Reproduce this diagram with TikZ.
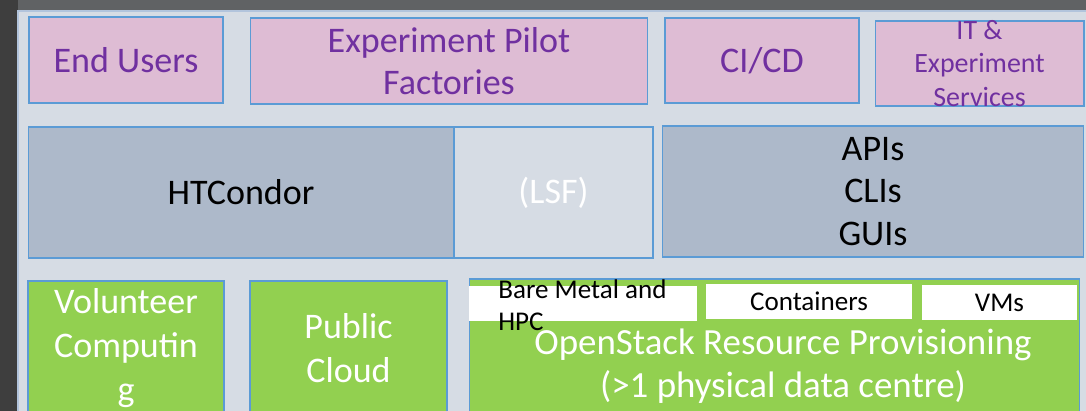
\documentclass[tikz,border=0pt]{standalone}
\usepackage{fontspec}
\setmainfont{Carlito}
\usepackage{tikz}
\usetikzlibrary{positioning}

\definecolor{darkbg}{RGB}{62, 62, 62}
\definecolor{stripbg}{RGB}{96, 98, 100}
\definecolor{panelbg}{RGB}{214, 220, 228}
\definecolor{paneledge}{RGB}{178, 196, 220}
\definecolor{edgeblue}{RGB}{91, 155, 213}
\definecolor{pinkfill}{RGB}{222, 188, 212}
\definecolor{purpletxt}{RGB}{112, 48, 160}
\definecolor{slatefill}{RGB}{173, 185, 202}
\definecolor{greenfill}{RGB}{146, 208, 80}

\begin{document}
\begin{tikzpicture}[x=0.02cm, y=-0.02cm,
  box/.style={draw=edgeblue, line width=0.6pt, inner sep=0pt, align=center},
  pinkbox/.style={box, fill=pinkfill, text=purpletxt, font=\fontsize{20.5}{24}\selectfont},
  slatebox/.style={box, fill=slatefill, font=\fontsize{20.5}{24}\selectfont},
  greenbox/.style={box, fill=greenfill, text=white, font=\fontsize{20.5}{25}\selectfont},
  whitebox/.style={fill=white, inner sep=0pt, minimum height=0.70cm, font=\fontsize{15.4}{18}\selectfont}]

  % Backdrop and panel
  \useasboundingbox (0, 0) rectangle (1086, 411);
  \clip (0, 0) rectangle (1086, 411);
  \fill[darkbg] (0, 0) rectangle (1086, 411);
  \fill[stripbg] (18, 0) rectangle (1086, 11);
  \filldraw[fill=panelbg, draw=paneledge, line width=0.8pt] (18, 11) rectangle (1090, 415);

  % Top row: consumers
  \node[pinkbox, minimum width=3.88cm, minimum height=1.72cm] (users) at (126, 60) {End Users};
  \node[pinkbox, minimum width=7.96cm, minimum height=1.72cm] (pilots) at (449, 61) {Experiment Pilot\\Factories};
  \node[pinkbox, minimum width=3.88cm, minimum height=1.70cm] (cicd) at (762, 60.5) {CI/CD};
  \node[pinkbox, minimum width=4.18cm, minimum height=1.70cm] (itsvc) at (979.5, 63.5) {};
  \node[text=purpletxt, align=center, inner sep=0pt, font=\fontsize{15.9}{19.3}\selectfont] (itsvctxt) at (itsvc.center) {IT \&\\Experiment\\Services};

  % Middle row: batch and interfaces
  \node[slatebox, minimum width=8.52cm, minimum height=2.62cm] (htcondor) at (241, 192.5) {HTCondor};
  \node[box, fill=panelbg, text=white, font=\fontsize{20.5}{24}\selectfont, minimum width=3.98cm, minimum height=2.62cm] (lsf) at (553.5, 192.5) {(LSF)};
  \node[slatebox, minimum width=8.44cm, minimum height=2.62cm] (apis) at (873, 191.5) {APIs\\CLIs\\GUIs};

  % Bottom row: resources
  \node[greenbox, minimum width=3.92cm, minimum height=2.70cm] (volunteer) at (126, 348.5) {};
  \node[text=white, align=center, inner sep=0pt, font=\fontsize{20.5}{25}\selectfont] (volunteertxt) at (126, 348) {Volunteer\\Computin\\g};
  \node[greenbox, minimum width=3.94cm, minimum height=2.70cm] (public) at (348.5, 348.5) {Public\\Cloud};
  \node[greenbox, minimum width=12.22cm, minimum height=2.74cm] (openstack) at (774.5, 347.5) {};
  \node[text=white, align=center, inner sep=0pt, font=\fontsize{21}{24.5}\selectfont] (openstacktxt) at (783, 366) {OpenStack Resource Provisioning\\(>1 physical data centre)};

  % Provisioning flavours
  \node[whitebox, minimum width=4.56cm] (bare) at (583, 303.5) {};
  \node[anchor=west, align=left, inner sep=0pt, font=\fontsize{15.4}{18.2}\selectfont] (baretxt) at (498, 305) {Bare Metal and\\HPC};
  \node[whitebox, minimum width=4.12cm] (containers) at (809, 301.5) {Containers};
  \node[whitebox, minimum width=3.10cm] (vms) at (999.5, 302.5) {VMs};
\end{tikzpicture}
\end{document}
